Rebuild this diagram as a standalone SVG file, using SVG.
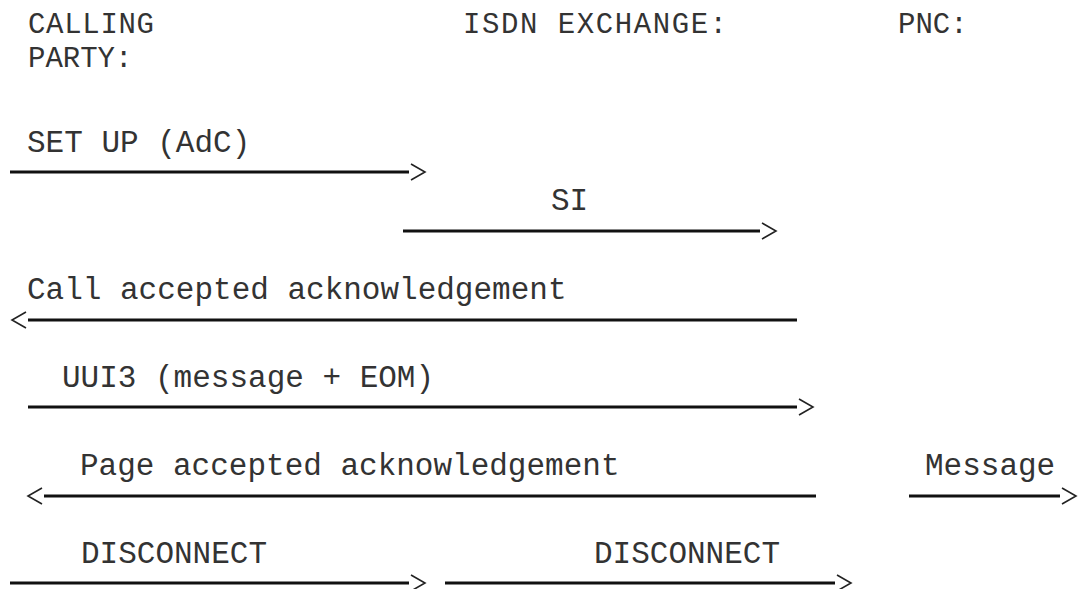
<svg xmlns="http://www.w3.org/2000/svg" width="1078" height="589" viewBox="0 0 1078 589">
<style>
text{font-family:"Liberation Mono","Courier New",monospace;font-size:31px;fill:#333}
.hdr{font-size:29px}
.ln{stroke:#111;stroke-width:3;fill:none}
.hd{stroke:#222;stroke-width:1.6;fill:none}
</style>
<defs>
<marker id="ar" markerUnits="userSpaceOnUse" markerWidth="20" markerHeight="20" refX="0" refY="0" viewBox="-2 -10 20 20" overflow="visible" orient="auto">
<path class="hd" d="M2,-8 L16,0 L2,8"/>
</marker>
</defs>
<rect width="1078" height="589" fill="#fff"/>
<g id="calling-party"><text class="hdr" x="28" y="33" textLength="126">CALLING</text><text class="hdr" x="28" y="67">PARTY:</text></g>
<g id="isdn-exchange"><text class="hdr" x="463" y="33" textLength="264">ISDN EXCHANGE:</text></g>
<g id="pnc"><text class="hdr" x="898" y="33">PNC:</text></g>
<g id="labels">
<text x="27" y="152">SET UP (AdC)</text>
<text x="551" y="210">SI</text>
<text x="27" y="299">Call accepted acknowledgement</text>
<text x="62" y="387">UUI3 (message + EOM)</text>
<text x="80" y="475">Page accepted acknowledgement</text>
<text x="925" y="475">Message</text>
<text x="81" y="563">DISCONNECT</text>
<text x="594" y="563">DISCONNECT</text>
</g>
<g id="connectors">
<line class="ln" x1="10" y1="172" x2="409" y2="172" marker-end="url(#ar)"/>
<line class="ln" x1="403" y1="231" x2="760" y2="231" marker-end="url(#ar)"/>
<line class="ln" x1="797" y1="320" x2="28" y2="320" marker-end="url(#ar)"/>
<line class="ln" x1="28" y1="407" x2="797" y2="407" marker-end="url(#ar)"/>
<line class="ln" x1="816" y1="496" x2="44" y2="496" marker-end="url(#ar)"/>
<line class="ln" x1="909" y1="496" x2="1060" y2="496" marker-end="url(#ar)"/>
<line class="ln" x1="10" y1="583" x2="409" y2="583" marker-end="url(#ar)"/>
<line class="ln" x1="445" y1="583" x2="835" y2="583" marker-end="url(#ar)"/>
</g>
</svg>
